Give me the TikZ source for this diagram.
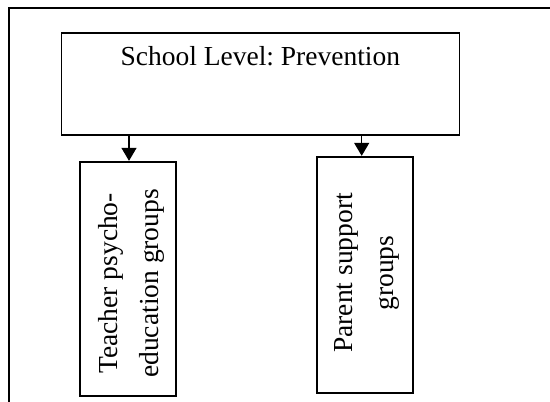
\documentclass[tikz,border=0pt]{standalone}
\usepackage{fontspec}
\setmainfont{Liberation Serif}
\usetikzlibrary{arrows.meta}
\frenchspacing
\begin{document}
\begin{tikzpicture}[x=1pt,y=-1pt,
  boxstyle/.style={draw=black,line width=1.7pt,inner sep=0pt,fill=none},
  txt/.style={inner sep=0pt,font=\fontsize{27.5}{41}\selectfont},
  arr/.style={line width=1.3pt,-{Triangle[length=13pt,width=15pt]}}]
\useasboundingbox (0,0) rectangle (550,402);
% outer frame (partly cropped)
\draw[line width=2pt] (8.5,402) -- (8.5,7.7) -- (550,7.7);
% top box
\node[boxstyle,minimum width=398pt,minimum height=102pt] (top) at (260.5,83.7) {};
\node[txt,anchor=base] (toptext) at (260.3,65.7) {School Level: Prevention};
% left box
\node[boxstyle,minimum width=96pt,minimum height=234pt] (lbox) at (128,278.7) {};
\node[txt,rotate=90,align=center] (ltext) at (131.5,283.4) {Teacher psycho-\\education groups};
% right box
\node[boxstyle,minimum width=96pt,minimum height=236pt] (rbox) at (365,274.7) {};
\node[txt,rotate=90,align=center] (rtext) at (367,273) {Parent support\\groups};
% arrows
\coordinate (la) at (129,0);
\coordinate (ra) at (361.7,0);
\draw[arr] (top.south -| la) -- (lbox.north -| la);
\draw[arr] (top.south -| ra) -- (rbox.north -| ra);
\end{tikzpicture}
\end{document}
